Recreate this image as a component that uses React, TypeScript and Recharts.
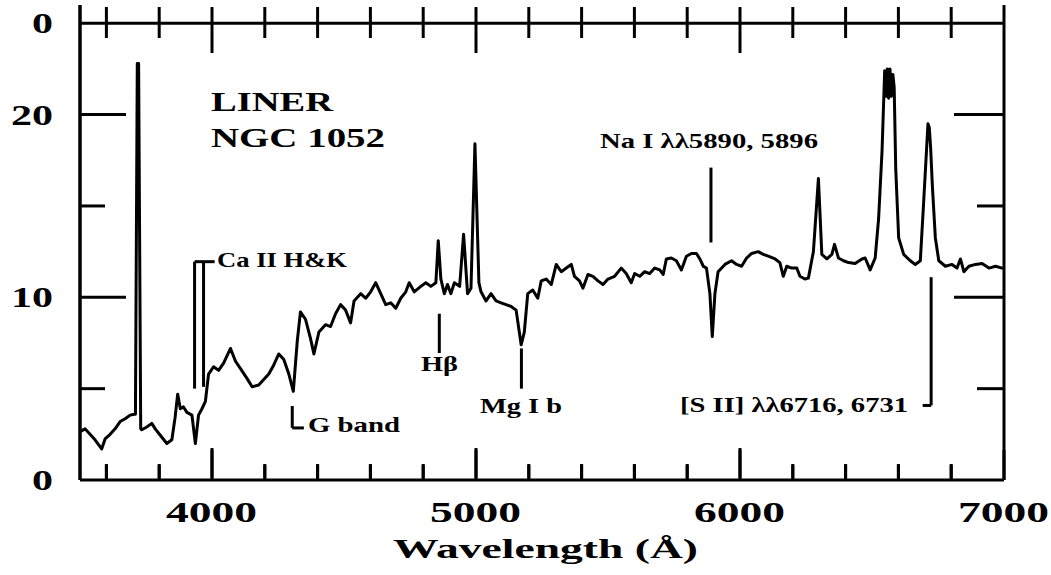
import React from 'react';
import { LineChart, Line, XAxis, YAxis, ReferenceLine } from 'recharts';

// ---- data ----
const wavelength = [
  3500, 3519, 3538, 3557, 3582, 3595, 3614, 3633, 3652, 3671, 3690, 3706, 3710, 3717, 3722, 3730,
  3734, 3753, 3772, 3785, 3804, 3829, 3848, 3860, 3870, 3880, 3892, 3905, 3924, 3937, 3949, 3962,
  3975, 3987, 4006, 4025, 4044, 4070, 4089, 4108, 4133, 4152, 4177, 4196, 4215, 4234, 4253, 4272,
  4291, 4308, 4323, 4335, 4354, 4373, 4386, 4405, 4430, 4449, 4468, 4487, 4506, 4525, 4538, 4563,
  4582, 4601, 4620, 4639, 4658, 4677, 4696, 4715, 4734, 4747, 4766, 4791, 4810, 4829, 4848, 4857,
  4867, 4880, 4892, 4905, 4918, 4938, 4953, 4968, 4981, 4996, 5011, 5019, 5038, 5057, 5076, 5095,
  5114, 5133, 5152, 5171, 5183, 5196, 5215, 5234, 5247, 5266, 5285, 5304, 5323, 5342, 5361, 5373,
  5392, 5405, 5424, 5443, 5462, 5481, 5500, 5525, 5550, 5569, 5588, 5601, 5620, 5639, 5658, 5677,
  5696, 5709, 5721, 5740, 5759, 5778, 5797, 5816, 5835, 5848, 5861, 5873, 5886, 5895, 5905, 5917,
  5943, 5968, 5987, 6006, 6025, 6044, 6069, 6088, 6107, 6133, 6151, 6164, 6177, 6196, 6215, 6227,
  6246, 6259, 6278, 6297, 6310, 6329, 6348, 6358, 6373, 6392, 6411, 6436, 6462, 6474, 6493, 6512,
  6525, 6538, 6548, 6553, 6558, 6563, 6568, 6573, 6579, 6584, 6590, 6601, 6620, 6645, 6664, 6683,
  6696, 6712, 6717, 6722, 6729, 6740, 6753, 6778, 6803, 6822, 6835, 6848, 6867, 6892, 6917, 6943,
  6968, 6993, 7000,
];
const flux = [
  2.64, 2.8, 2.5, 2.2, 1.7, 2.25, 2.5, 2.8, 3.2, 3.35, 3.55, 3.6, 3.6, 22.8, 22.8, 2.8,
  2.75, 2.9, 3.1, 2.8, 2.45, 2.0, 2.2, 3.4, 4.7, 3.9, 4.0, 3.7, 3.55, 2.0, 3.55, 3.9,
  4.3, 5.8, 6.2, 6.0, 6.4, 7.2, 6.5, 6.1, 5.55, 5.1, 5.2, 5.5, 5.8, 6.3, 6.9, 6.6,
  5.8, 4.85, 7.6, 9.2, 8.8, 7.75, 6.9, 8.1, 8.5, 8.4, 9.1, 9.6, 9.3, 8.6, 9.8, 10.2,
  9.95, 10.3, 10.8, 10.2, 9.6, 9.7, 9.4, 9.95, 10.3, 10.8, 10.3, 10.6, 10.8, 10.6, 10.8, 13.1,
  11.0, 10.2, 10.7, 10.2, 10.8, 10.6, 13.45, 10.2, 10.5, 18.4, 10.8, 10.3, 9.8, 10.2, 9.8, 9.7,
  9.6, 9.5, 9.3, 7.4, 8.1, 10.2, 10.4, 9.95, 10.9, 11.0, 10.7, 11.8, 11.4, 11.6, 11.8, 11.15,
  10.9, 10.5, 11.25, 11.15, 10.9, 10.7, 11.0, 11.15, 11.6, 11.3, 10.8, 11.3, 11.15, 11.4, 11.3, 11.6,
  11.5, 11.25, 12.1, 12.15, 12.0, 11.5, 12.25, 12.4, 12.4, 12.1, 11.7, 11.6, 10.2, 7.85, 10.2, 11.4,
  11.8, 12.0, 11.8, 11.7, 12.15, 12.4, 12.5, 12.35, 12.25, 12.1, 11.9, 11.15, 11.7, 11.6, 11.6, 11.15,
  11.0, 11.05, 12.5, 16.5, 12.35, 12.1, 12.35, 12.9, 12.15, 12.0, 11.9, 11.85, 12.1, 12.15, 11.5, 12.15,
  14.3, 18.0, 22.4, 21.0, 22.5, 20.9, 22.5, 21.0, 22.2, 21.5, 17.0, 13.25, 12.35, 12.0, 11.8, 12.0,
  15.3, 19.5, 19.3, 18.2, 16.0, 13.25, 12.0, 11.7, 11.8, 11.6, 12.1, 11.4, 11.7, 11.8, 11.85, 11.6,
  11.7, 11.6, 11.6,
];

const xMajorTicks = [4000, 5000, 6000, 7000];
const xMinorTicks = [3600, 3800, 4200, 4400, 4600, 4800, 5200, 5400, 5600, 5800, 6200, 6400, 6600, 6800];
const xTopMajor = [4000, 5000, 6000];
const yTicksLeft = [0, 5, 10, 15, 20, 25];
const yLabelValues = [0, 10, 20];
const upperPanelZero = 25;
const yTicksRight = [5, 10, 15, 20];

// annotation leader lines, in (wavelength, flux) units
const caK = [{ x: 3934, y: 5.0 }, { x: 3934, y: 11.95 }];
const caH = [{ x: 3968, y: 5.1 }, { x: 3968, y: 11.95 }];
const caBar = [{ x: 3934, y: 11.95 }, { x: 4010, y: 11.95 }];
const gBandV = [{ x: 4304, y: 2.85 }, { x: 4304, y: 4.05 }];
const gBandH = [{ x: 4304, y: 2.85 }, { x: 4348, y: 2.85 }];
const hBeta = [{ x: 4861, y: 6.95 }, { x: 4861, y: 9.1 }];
const mgB = [{ x: 5172, y: 5.0 }, { x: 5172, y: 7.2 }];
const naI = [{ x: 5890, y: 13.0 }, { x: 5890, y: 17.1 }];
const sIIV = [{ x: 6724, y: 4.08 }, { x: 6724, y: 11.1 }];
const sIIH = [{ x: 6692, y: 4.08 }, { x: 6724, y: 4.08 }];

const data = wavelength.map((w, i) => ({ w, f: flux[i] }));

const FONT = '"Liberation Serif", "Times New Roman", Times, serif';
const LEFT = 80;
const RIGHT = 1004;
const PLOT_BOTTOM = 478;
const X_DOMAIN: [number, number] = [3500, 7000];
const TICK_LINE = { stroke: '#000', strokeWidth: 3 };
const xPos = (v: number) => LEFT + ((v - X_DOMAIN[0]) / (X_DOMAIN[1] - X_DOMAIN[0])) * (RIGHT - LEFT);

const T = ({ x, y, size, len, children }: any) => (
  <text
    x={x}
    y={y}
    fontFamily={FONT}
    fontWeight="bold"
    fontSize={size}
    fill="#000"
    textLength={len}
    lengthAdjust="spacingAndGlyphs"
  >
    {children}
  </text>
);

const XLabelTick = (props: any) => {
  const x = Number(props.x);
  const v = Number(props.payload?.value);
  return (
    <T x={x - 46} y={522} size={29} len={91}>
      {String(v)}
    </T>
  );
};

const EmptyTick = () => <g />;

const YTickLeft = (props: any) => {
  const { y, payload } = props;
  const v = payload.value as number;
  const major = v % 10 === 0;
  let label: string | null = null;
  if (yLabelValues.includes(v)) label = String(v);
  if (v === upperPanelZero) label = '0';
  const w = label ? (label.length === 1 ? 21 : 42) : 0;
  return (
    <g>
      {v > 0 && v < 25 && (
        <line x1={LEFT} x2={LEFT + (major ? 46 : 25)} y1={y} y2={y} stroke="#000" strokeWidth={3} />
      )}
      {label && (
        <T x={53 - w} y={y + 10} size={29} len={w}>
          {label}
        </T>
      )}
    </g>
  );
};

const YTickRight = (props: any) => {
  const { y, payload } = props;
  const v = payload.value as number;
  const major = v % 10 === 0;
  return <line x1={RIGHT} x2={RIGHT - (major ? 50 : 27)} y1={y} y2={y} stroke="#000" strokeWidth={3} />;
};

export default function App() {
  const tickValues = [...xMinorTicks, ...xTopMajor];
  return (
    <div style={{ position: 'absolute', left: 0, top: 0, width: 1051, height: 575, background: '#fff' }}>
      <LineChart
        width={1051}
        height={575}
        data={data}
        margin={{ top: 5, right: 46, bottom: 95, left: 79 }}
      >
        <XAxis
          dataKey="w"
          type="number"
          domain={X_DOMAIN}
          allowDataOverflow
          ticks={xMajorTicks}
          interval={0}
          height={1}
          mirror
          tickSize={30}
          tickLine={TICK_LINE}
          axisLine={{ stroke: '#000', strokeWidth: 3 }}
          tick={XLabelTick}
        />
        <XAxis
          xAxisId="bm"
          dataKey="w"
          type="number"
          domain={X_DOMAIN}
          allowDataOverflow
          ticks={xMinorTicks}
          interval={0}
          height={1}
          mirror
          tickSize={14}
          tickLine={TICK_LINE}
          axisLine={false}
          tick={EmptyTick}
        />
        <YAxis
          yAxisId="l"
          type="number"
          domain={[0, 26]}
          allowDataOverflow
          ticks={yTicksLeft}
          interval={0}
          width={1}
          tickLine={false}
          axisLine={{ stroke: '#000', strokeWidth: 3.5 }}
          tick={<YTickLeft />}
        />
        <YAxis
          yAxisId="r"
          orientation="right"
          type="number"
          domain={[0, 26]}
          allowDataOverflow
          ticks={yTicksRight}
          interval={0}
          width={1}
          tickLine={false}
          axisLine={{ stroke: '#000', strokeWidth: 3 }}
          tick={<YTickRight />}
        />
        <ReferenceLine yAxisId="l" y={25} stroke="#000" strokeWidth={3} />
        <ReferenceLine yAxisId="l" segment={caK} stroke="#000" strokeWidth={3} ifOverflow="visible" />
        <ReferenceLine yAxisId="l" segment={caH} stroke="#000" strokeWidth={3} ifOverflow="visible" />
        <ReferenceLine yAxisId="l" segment={caBar} stroke="#000" strokeWidth={3} ifOverflow="visible" />
        <ReferenceLine yAxisId="l" segment={gBandV} stroke="#000" strokeWidth={3} ifOverflow="visible" />
        <ReferenceLine yAxisId="l" segment={gBandH} stroke="#000" strokeWidth={3} ifOverflow="visible" />
        <ReferenceLine yAxisId="l" segment={hBeta} stroke="#000" strokeWidth={3} ifOverflow="visible" />
        <ReferenceLine yAxisId="l" segment={mgB} stroke="#000" strokeWidth={3} ifOverflow="visible" />
        <ReferenceLine yAxisId="l" segment={naI} stroke="#000" strokeWidth={3} ifOverflow="visible" />
        <ReferenceLine yAxisId="l" segment={sIIV} stroke="#000" strokeWidth={3} ifOverflow="visible" />
        <ReferenceLine yAxisId="l" segment={sIIH} stroke="#000" strokeWidth={3} ifOverflow="visible" />
        <Line
          yAxisId="l"
          dataKey="f"
          type="linear"
          stroke="#000"
          strokeWidth={3}
          strokeLinejoin="round"
          dot={false}
          activeDot={false}
          isAnimationActive={false}
        />
      </LineChart>
      <svg
        width={1051}
        height={575}
        style={{ position: 'absolute', left: 0, top: 0, pointerEvents: 'none' }}
      >
        {tickValues.map((v) => {
          const major = v % 1000 === 0;
          const x = xPos(v);
          return (
            <g key={v}>
              <line x1={x} x2={x} y1={PLOT_BOTTOM} y2={PLOT_BOTTOM - (major ? 30 : 14)} stroke="#000" strokeWidth={3} />
              <line x1={x} x2={x} y1={7} y2={major ? 53 : 38} stroke="#000" strokeWidth={3} />
            </g>
          );
        })}
        <T x={211} y={111} size={27} len={122}>LINER</T>
        <T x={211} y={147} size={27} len={174}>NGC 1052</T>
        <T x={217} y={267} size={21} len={130}>Ca II H&amp;K</T>
        <T x={308} y={432} size={22} len={92}>G band</T>
        <T x={421} y={371} size={20} len={37}>Hβ</T>
        <T x={480} y={413} size={20} len={82}>Mg I b</T>
        <T x={600} y={148} size={22} len={218}>Na I λλ5890, 5896</T>
        <T x={680} y={412} size={21} len={228}>[S II] λλ6716, 6731</T>
        <T x={393} y={558} size={28} len={305}>Wavelength (Å)</T>
      </svg>
    </div>
  );
}
